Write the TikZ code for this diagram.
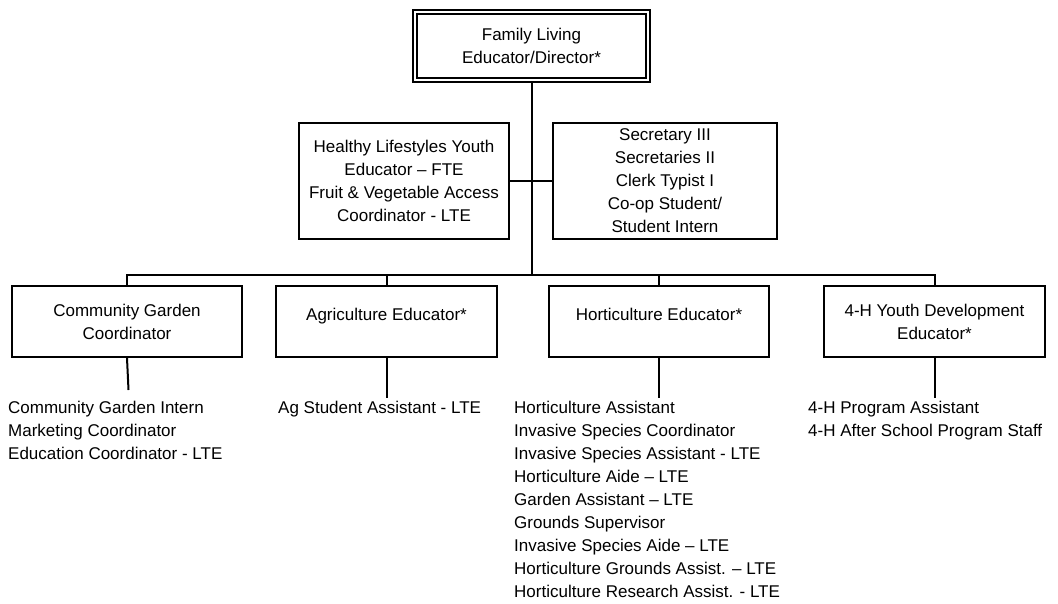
\documentclass[tikz,border=0pt]{standalone}
\usepackage{fontspec}
\setmainfont{Liberation Sans}
\usetikzlibrary{positioning}

\begin{document}
\begin{tikzpicture}[x=1pt, y=-1pt,
  box/.style={draw, line width=2pt, align=center, inner sep=0pt, font=\fontsize{17}{23}\selectfont},
  oneline/.style={text depth=15pt},
  link/.style={line width=2pt},
  staff/.style={anchor=north west, align=left, inner sep=0pt, font=\fontsize{17}{23}\selectfont}]
  \useasboundingbox (0,0) rectangle (1058,604);

  % Director
  \node[box, double, double distance=2.2pt, line width=1.8pt, outer sep=2.9pt,
        minimum width=233.2pt, minimum height=68.2pt] (dir) at (531.5,46) {Family Living\\Educator/Director*};
  \coordinate (bus) at (531.5,275);

  % Staff next to the trunk
  \node[box, minimum width=210pt, minimum height=116pt] (hly) at (404,181)
    {Healthy Lifestyles Youth\\Educator -- FTE\\Fruit \& Vegetable Access\\Coordinator - LTE};
  \node[box, minimum width=224pt, minimum height=116pt] (sec) at (665,181)
    {Secretary III\\Secretaries II\\Clerk Typist I\\Co-op Student/\\Student Intern};

  % Program areas
  \node[box, minimum width=230pt, minimum height=71pt] (cg) at (127,321.5) {Community Garden\\Coordinator};
  \node[box, oneline, minimum width=221pt, minimum height=71pt] (ag) at (386.5,321.5) {Agriculture Educator*};
  \node[box, oneline, minimum width=220pt, minimum height=71pt] (hort) at (659,321.5) {Horticulture Educator*};
  \node[box, minimum width=221pt, minimum height=71pt] (fh) at (934.5,321.5) {4-H Youth Development\\Educator*};

  % Connectors
  \draw[link] (dir.south) -- (bus);
  \draw[link] (hly.east) -- (sec.west);
  \draw[link] (cg.north) |- (bus) -| (fh.north);
  \draw[link] (ag.north) -- (ag.north |- bus);
  \draw[link] (hort.north) -- (hort.north |- bus);

  \coordinate (cgend) at (128.5,390);
  \draw[link] (cg.south) -- (cgend);
  \foreach \n in {ag,hort,fh}
    \draw[link] (\n.south) -- ++(0,40);

  % Positions under each area
  \node[staff] (cgl) at (8,401) {Community Garden Intern\\Marketing Coordinator\\Education Coordinator - LTE};
  \node[staff] (agl) at (278,401) {Ag Student Assistant - LTE};
  \node[staff] (hortl) at (514,401) {Horticulture Assistant\\Invasive Species Coordinator\\Invasive Species Assistant - LTE\\Horticulture Aide -- LTE\\Garden Assistant -- LTE\\Grounds Supervisor\\Invasive Species Aide -- LTE\\Horticulture Grounds Assist. -- LTE\\Horticulture Research Assist. - LTE};
  \node[staff] (fhl) at (808,401) {4-H Program Assistant\\4-H After School Program Staff};
\end{tikzpicture}
\end{document}
